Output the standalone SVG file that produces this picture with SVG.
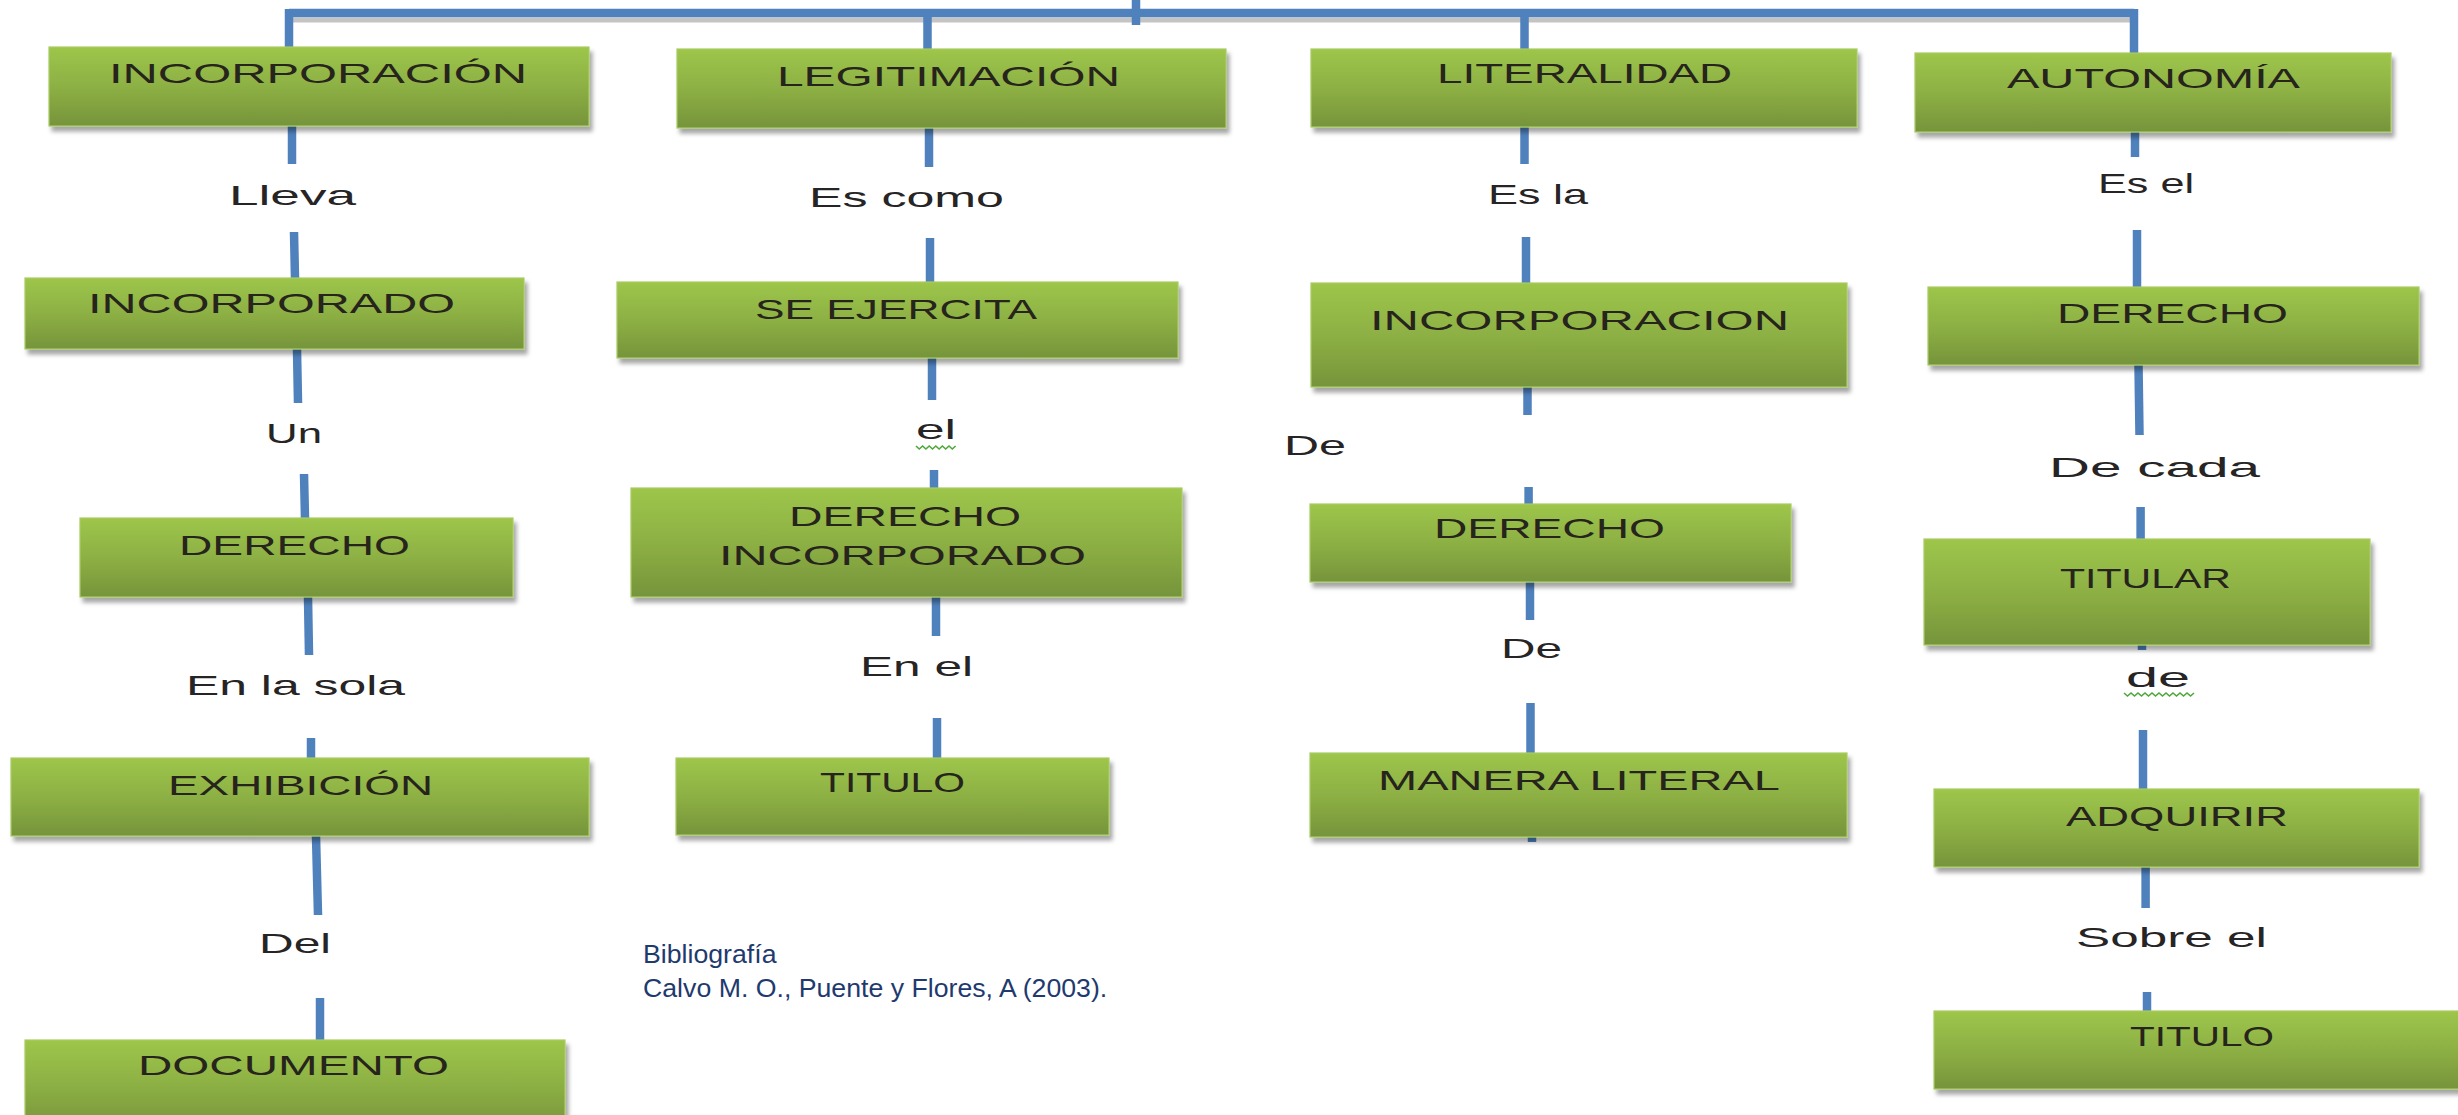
<svg xmlns="http://www.w3.org/2000/svg" width="2458" height="1115" viewBox="0 0 2458 1115">
<defs>
<linearGradient id="g" x1="0" y1="0" x2="0" y2="1">
<stop offset="0" stop-color="#9dc64a"/>
<stop offset="0.5" stop-color="#8db044"/>
<stop offset="1" stop-color="#76943b"/>
</linearGradient>
<filter id="sh" x="-5%" y="-10%" width="115%" height="135%">
<feDropShadow dx="3" dy="5" stdDeviation="2" flood-color="#000" flood-opacity="0.35"/>
</filter>
</defs>
<style>
.box{fill:url(#g);stroke:#a8cb64;stroke-width:1.2;filter:url(#sh)}
.t{font-family:"Liberation Sans","DejaVu Sans",sans-serif;font-size:28px;fill:#26241c}
.l{font-family:"Liberation Sans","DejaVu Sans",sans-serif;font-size:28px;fill:#262424}
.c{stroke:#4f81bd;stroke-width:8.5;fill:none}
.shd{stroke:#9c9c9c;stroke-width:5;fill:none;opacity:0.6}
.sq{stroke:#4ea83a;stroke-width:1.6;fill:none}
.bib{font-family:"Liberation Sans","Arial",sans-serif;font-size:26.7px;fill:#1f3a6e}
</style>
<rect width="2458" height="1115" fill="#ffffff"/>
<g id="connectors">
<line class="shd" x1="289" y1="20" x2="2134" y2="20"/>
<line class="c" x1="289" y1="13" x2="2134" y2="13"/>
<line class="c" x1="1136" y1="0" x2="1136" y2="25"/>
<line class="c" x1="289" y1="9" x2="289" y2="47"/>
<line class="c" x1="927.5" y1="13" x2="927.5" y2="49"/>
<line class="c" x1="1524.5" y1="13" x2="1524.5" y2="49"/>
<line class="c" x1="2134" y1="9" x2="2134" y2="53"/>
<line class="c" x1="292" y1="126" x2="292" y2="164"/>
<line class="c" x1="294" y1="232" x2="295" y2="278"/>
<line class="c" x1="297" y1="349" x2="298" y2="403"/>
<line class="c" x1="304" y1="474" x2="305" y2="518"/>
<line class="c" x1="308" y1="597" x2="309" y2="655"/>
<line class="c" x1="311" y1="738" x2="311" y2="758"/>
<line class="c" x1="316" y1="836" x2="318" y2="915"/>
<line class="c" x1="320" y1="998" x2="320" y2="1040"/>
<line class="c" x1="929" y1="128" x2="929" y2="167"/>
<line class="c" x1="930" y1="238" x2="930" y2="282"/>
<line class="c" x1="932" y1="358" x2="932" y2="400"/>
<line class="c" x1="934" y1="470" x2="934" y2="488"/>
<line class="c" x1="936" y1="597" x2="936" y2="636"/>
<line class="c" x1="937" y1="718" x2="937" y2="758"/>
<line class="c" x1="1524.5" y1="127" x2="1524.5" y2="164"/>
<line class="c" x1="1526" y1="237" x2="1526" y2="283"/>
<line class="c" x1="1527.5" y1="387" x2="1527.5" y2="415"/>
<line class="c" x1="1528.6" y1="487" x2="1528.6" y2="504"/>
<line class="c" x1="1530" y1="582" x2="1530" y2="620"/>
<line class="c" x1="1530.5" y1="703" x2="1530.5" y2="753"/>
<line class="c" x1="1532" y1="837" x2="1532" y2="842"/>
<line class="c" x1="2135" y1="132" x2="2135" y2="157"/>
<line class="c" x1="2137" y1="230" x2="2137" y2="287"/>
<line class="c" x1="2138.5" y1="365" x2="2139.5" y2="435"/>
<line class="c" x1="2140.6" y1="507" x2="2140.6" y2="539"/>
<line class="c" x1="2142" y1="645" x2="2142" y2="650"/>
<line class="c" x1="2143" y1="730" x2="2143" y2="789"/>
<line class="c" x1="2145.6" y1="867" x2="2145.6" y2="908"/>
<line class="c" x1="2147" y1="992" x2="2147" y2="1011"/>
</g>
<g id="labels">
<text class="l" x="229" y="205" textLength="127" lengthAdjust="spacingAndGlyphs">Lleva</text>
<text class="l" x="266" y="443" textLength="56" lengthAdjust="spacingAndGlyphs">Un</text>
<text class="l" x="186" y="695" textLength="219" lengthAdjust="spacingAndGlyphs">En la sola</text>
<text class="l" x="259" y="953" textLength="72" lengthAdjust="spacingAndGlyphs">Del</text>
<text class="l" x="809" y="207" textLength="195" lengthAdjust="spacingAndGlyphs">Es como</text>
<text class="l" x="916" y="439" textLength="40" lengthAdjust="spacingAndGlyphs">el</text>
<path class="sq" d="M916 446 l3.3 3 l3.3 -3 l3.3 3 l3.3 -3 l3.3 3 l3.3 -3 l3.3 3 l3.3 -3 l3.3 3 l3.3 -3 l3.3 3 l3.3 -3"/>
<text class="l" x="860" y="676" textLength="113" lengthAdjust="spacingAndGlyphs">En el</text>
<text class="l" x="1488" y="204" textLength="100" lengthAdjust="spacingAndGlyphs">Es la</text>
<text class="l" x="1284" y="455" textLength="62" lengthAdjust="spacingAndGlyphs">De</text>
<text class="l" x="1501" y="658" textLength="61" lengthAdjust="spacingAndGlyphs">De</text>
<text class="l" x="2098" y="193" textLength="96" lengthAdjust="spacingAndGlyphs">Es el</text>
<text class="l" x="2049" y="477" textLength="211" lengthAdjust="spacingAndGlyphs">De cada</text>
<text class="l" x="2126" y="687" textLength="64" lengthAdjust="spacingAndGlyphs">de</text>
<path class="sq" d="M2124 693 l3.5 3 l3.5 -3 l3.5 3 l3.5 -3 l3.5 3 l3.5 -3 l3.5 3 l3.5 -3 l3.5 3 l3.5 -3 l3.5 3 l3.5 -3 l3.5 3 l3.5 -3 l3.5 3 l3.5 -3 l3.5 3 l3.5 -3 l3.5 3 l3.5 -3"/>
<text class="l" x="2076" y="947" textLength="191" lengthAdjust="spacingAndGlyphs">Sobre el</text>
</g>
<g id="n-incorporacion">
<rect class="box" x="49" y="47" width="540" height="79"/>
<text class="t" x="109" y="83" textLength="418" lengthAdjust="spacingAndGlyphs">INCORPORACIÓN</text>
</g>
<g id="n-incorporado">
<rect class="box" x="25" y="278" width="499" height="71"/>
<text class="t" x="88" y="313" textLength="367" lengthAdjust="spacingAndGlyphs">INCORPORADO</text>
</g>
<g id="n-derecho1">
<rect class="box" x="80" y="518" width="433" height="79"/>
<text class="t" x="179" y="555" textLength="231" lengthAdjust="spacingAndGlyphs">DERECHO</text>
</g>
<g id="n-exhibicion">
<rect class="box" x="11" y="758" width="578" height="78"/>
<text class="t" x="168" y="795" textLength="265" lengthAdjust="spacingAndGlyphs">EXHIBICIÓN</text>
</g>
<g id="n-documento">
<rect class="box" x="25" y="1040" width="540" height="90"/>
<text class="t" x="138" y="1075" textLength="311" lengthAdjust="spacingAndGlyphs">DOCUMENTO</text>
</g>
<g id="n-legitimacion">
<rect class="box" x="677" y="49" width="549" height="79"/>
<text class="t" x="777" y="86" textLength="343" lengthAdjust="spacingAndGlyphs">LEGITIMACIÓN</text>
</g>
<g id="n-se-ejercita">
<rect class="box" x="617" y="282" width="561" height="76"/>
<text class="t" x="755" y="319" textLength="282" lengthAdjust="spacingAndGlyphs">SE EJERCITA</text>
</g>
<g id="n-derecho-incorporado">
<rect class="box" x="631" y="488" width="551" height="109"/>
<text class="t" x="789" y="526" textLength="232" lengthAdjust="spacingAndGlyphs">DERECHO</text>
<text class="t" x="719" y="565" textLength="367" lengthAdjust="spacingAndGlyphs">INCORPORADO</text>
</g>
<g id="n-titulo2">
<rect class="box" x="676" y="758" width="433" height="77"/>
<text class="t" x="820" y="792" textLength="145" lengthAdjust="spacingAndGlyphs">TITULO</text>
</g>
<g id="n-literalidad">
<rect class="box" x="1311" y="49" width="546" height="78"/>
<text class="t" x="1437" y="83" textLength="295" lengthAdjust="spacingAndGlyphs">LITERALIDAD</text>
</g>
<g id="n-incorporacion3">
<rect class="box" x="1311" y="283" width="536" height="104"/>
<text class="t" x="1370" y="330" textLength="419" lengthAdjust="spacingAndGlyphs">INCORPORACION</text>
</g>
<g id="n-derecho3">
<rect class="box" x="1310" y="504" width="481" height="78"/>
<text class="t" x="1434" y="538" textLength="231" lengthAdjust="spacingAndGlyphs">DERECHO</text>
</g>
<g id="n-manera-literal">
<rect class="box" x="1310" y="753" width="537" height="84"/>
<text class="t" x="1378" y="790" textLength="402" lengthAdjust="spacingAndGlyphs">MANERA LITERAL</text>
</g>
<g id="n-autonomia">
<rect class="box" x="1915" y="53" width="476" height="79"/>
<text class="t" x="2007" y="88" textLength="293" lengthAdjust="spacingAndGlyphs">AUTONOMÍA</text>
</g>
<g id="n-derecho4">
<rect class="box" x="1928" y="287" width="491" height="78"/>
<text class="t" x="2057" y="323" textLength="231" lengthAdjust="spacingAndGlyphs">DERECHO</text>
</g>
<g id="n-titular">
<rect class="box" x="1924" y="539" width="446" height="106"/>
<text class="t" x="2060" y="588" textLength="171" lengthAdjust="spacingAndGlyphs">TITULAR</text>
</g>
<g id="n-adquirir">
<rect class="box" x="1934" y="789" width="485" height="78"/>
<text class="t" x="2066" y="826" textLength="222" lengthAdjust="spacingAndGlyphs">ADQUIRIR</text>
</g>
<g id="n-titulo4">
<rect class="box" x="1934" y="1011" width="540" height="78"/>
<text class="t" x="2130" y="1046" textLength="144" lengthAdjust="spacingAndGlyphs">TITULO</text>
</g>
<g id="bibliografia">
<text class="bib" x="643" y="963">Bibliografía</text>
<text class="bib" x="643" y="997">Calvo M. O., Puente y Flores, A (2003).</text>
</g>
</svg>
